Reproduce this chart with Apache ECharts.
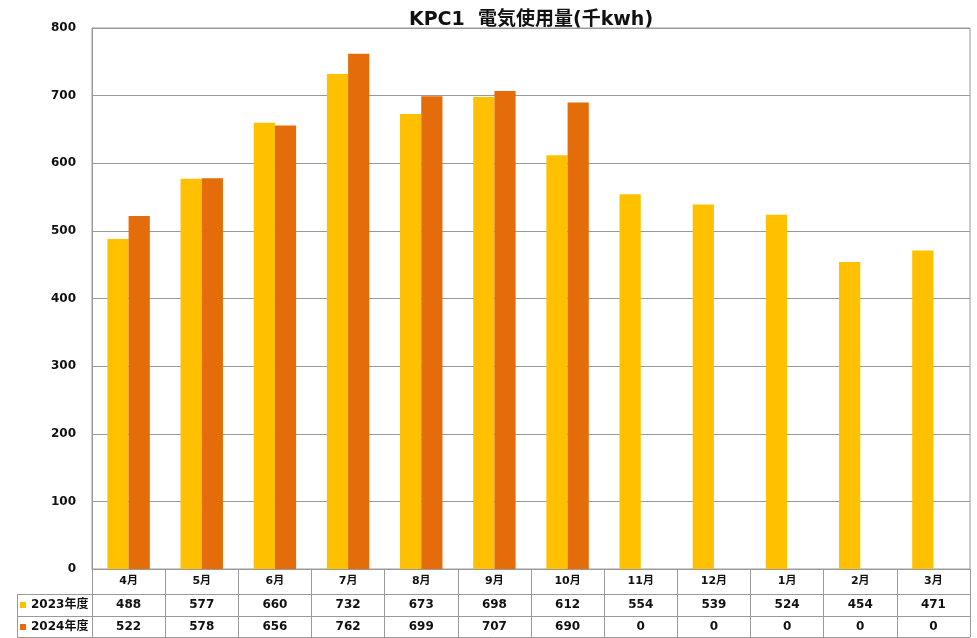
<!DOCTYPE html>
<html><head><meta charset="utf-8">
<script src="https://cdn.jsdelivr.net/npm/echarts@6/dist/echarts.min.js"></script>
<style>html,body{margin:0;padding:0;background:#fff}#c{width:977px;height:638px}</style>
</head><body><div id="c"></div>
<script>
const categories = ['4月','5月','6月','7月','8月','9月','10月','11月','12月','1月','2月','3月'];
const seriesNames = ['2023年度','2024年度'];
const values2023 = [488,577,660,732,673,698,612,554,539,524,454,471];
const values2024 = [522,578,656,762,699,707,690,0,0,0,0,0];
const yTicks = {min:0, max:800, interval:100};

const W = 977, H = 638;
const G = {left:92, right:7, top:28, bottom:69};
const plotRight = W - G.right, plotBottom = H - G.bottom;
const rowY = [plotBottom + 25, plotBottom + 47, plotBottom + 68];
const tableLeft = 17;
const lineColor = '#9a9a9a';
const font = '"DejaVu Sans", "Noto Sans CJK JP", sans-serif';
const colors = ['#FFC000', '#E46C0A'];

const chart = echarts.init(document.getElementById('c'));
const lineStyle = {stroke: lineColor, lineWidth: 1};
chart.setOption({
  animation: false,
  textStyle: {fontFamily: font},
  color: colors,
  title: {
    text: 'KPC1  電気使用量(千kwh)',
    left: 526, textAlign: 'center', top: 6,
    textStyle: {fontFamily: font, fontSize: 19, fontWeight: 'bold', color: '#111'}
  },
  legend: {
    orient: 'vertical', left: 20, top: rowY[0] + 4, itemGap: 8, padding: 0,
    icon: 'rect', itemWidth: 6, itemHeight: 6,
    data: seriesNames,
    selectedMode: false,
    textStyle: {fontFamily: font, fontSize: 12, fontWeight: 'bold', color: '#111', lineHeight: 14}
  },
  grid: {left: G.left, right: G.right, top: G.top, bottom: G.bottom, show: true, borderColor: lineColor, borderWidth: 1},
  xAxis: {
    type: 'category', data: categories,
    axisLine: {show: true, lineStyle: {color: lineColor}},
    axisTick: {show: true, length: H - plotBottom - 1, interval: 0, lineStyle: {color: lineColor}},
    axisLabel: {
      interval: 0, margin: 0,
      formatter: function (v, i) {
        return '{c|' + v + '}\n{v|' + values2023[i] + '}\n{v|' + values2024[i] + '}';
      },
      rich: {
        c: {fontFamily: font, fontSize: 11, fontWeight: 'bold', color: '#111', lineHeight: 25, height: 25},
        v: {fontFamily: font, fontSize: 12, fontWeight: 'bold', color: '#111', lineHeight: 22, height: 22}
      }
    }
  },
  yAxis: {
    type: 'value', min: yTicks.min, max: yTicks.max, interval: yTicks.interval,
    axisLine: {show: true, lineStyle: {color: lineColor}},
    axisTick: {show: false},
    axisLabel: {margin: 16, fontFamily: font, fontSize: 12, fontWeight: 'bold', color: '#111'},
    splitLine: {show: true, lineStyle: {color: lineColor}}
  },
  series: [
    {name: seriesNames[0], type: 'bar', data: values2023, barGap: '0%', barCategoryGap: '42%', itemStyle: {color: colors[0]}},
    {name: seriesNames[1], type: 'bar', data: values2024, barGap: '0%', barCategoryGap: '42%', itemStyle: {color: colors[1]}}
  ],
  graphic: [
    {type: 'line', shape: {x1: tableLeft, y1: rowY[0] + 0.5, x2: plotRight, y2: rowY[0] + 0.5}, style: lineStyle, silent: true},
    {type: 'line', shape: {x1: tableLeft, y1: rowY[1] + 0.5, x2: plotRight, y2: rowY[1] + 0.5}, style: lineStyle, silent: true},
    {type: 'line', shape: {x1: tableLeft, y1: rowY[2] + 0.5, x2: plotRight, y2: rowY[2] + 0.5}, style: lineStyle, silent: true},
    {type: 'line', shape: {x1: tableLeft + 0.5, y1: rowY[0], x2: tableLeft + 0.5, y2: rowY[2]}, style: lineStyle, silent: true}
  ]
});
</script></body></html>
